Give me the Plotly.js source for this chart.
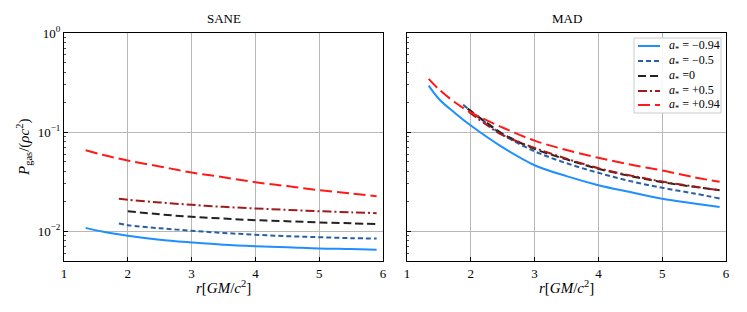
<!DOCTYPE html>
<html><head><meta charset="utf-8">
<script src="https://cdn.plot.ly/plotly-3.0.1.min.js"></script>
<style>html,body{margin:0;padding:0;background:#fff;}#plot{width:747px;height:312px;}</style>
</head><body><div id="plot"></div>
<script>
// ---- data ----
const legendLabels = ["<i>a</i><sub>*</sub> = −0.94", "<i>a</i><sub>*</sub> = −0.5", "<i>a</i><sub>*</sub> =0", "<i>a</i><sub>*</sub> = +0.5", "<i>a</i><sub>*</sub> = +0.94"];

// SANE
const saneR_m094 = [1.34, 1.6, 2, 2.5, 3, 3.5, 4, 4.5, 5, 5.5, 5.9];
const saneP_m094 = [0.0108, 0.0099, 0.0090, 0.0082, 0.0077, 0.0073, 0.00706, 0.0069, 0.0067, 0.0066, 0.0065];
const saneR_m05 = [1.86, 2, 2.5, 3, 3.5, 4, 4.5, 5, 5.5, 5.9];
const saneP_m05 = [0.01196, 0.0115, 0.0107, 0.0101, 0.0096, 0.0092, 0.0089, 0.0087, 0.0085, 0.00844];
const saneR_0 = [2, 2.5, 3, 3.5, 4, 4.5, 5, 5.5, 5.9];
const saneP_0 = [0.0159, 0.0148, 0.01396, 0.0134, 0.0129, 0.0126, 0.01224, 0.0120, 0.01177];
const saneR_p05 = [1.86, 2, 2.5, 3, 3.5, 4, 4.5, 5, 5.5, 5.9];
const saneP_p05 = [0.0212, 0.0207, 0.0195, 0.01845, 0.0176, 0.01695, 0.0164, 0.0159, 0.0155, 0.0152];
const saneR_p094 = [1.34, 1.6, 2, 2.5, 3, 3.5, 4, 4.5, 5, 5.5, 5.9];
const saneP_p094 = [0.0655, 0.059, 0.0516, 0.045, 0.0391, 0.035, 0.0312, 0.0285, 0.0259, 0.024, 0.0225];

// MAD
const madR_m094 = [1.34, 1.5, 1.75, 2, 2.5, 3, 3.5, 4, 4.5, 5, 5.5, 5.9];
const madP_m094 = [0.294, 0.216, 0.156, 0.1164, 0.070, 0.0463, 0.0359, 0.0291, 0.0248, 0.0212, 0.0190, 0.0175];
const madR_m05 = [1.88, 2, 2.25, 2.5, 3, 3.5, 4, 4.5, 5, 5.5, 5.9];
const madP_m05 = [0.189, 0.163, 0.122, 0.094, 0.064, 0.0485, 0.0388, 0.032, 0.0274, 0.024, 0.0214];
const madR_0 = [1.95, 2, 2.25, 2.5, 3, 3.5, 4, 4.5, 5, 5.5, 5.9];
const madP_0 = [0.1726, 0.163, 0.124, 0.096, 0.0677, 0.053, 0.0426, 0.036, 0.0312, 0.028, 0.0259];
const madR_p05 = [1.97, 2.25, 2.5, 3, 3.5, 4, 4.5, 5, 5.5, 5.9];
const madP_p05 = [0.160, 0.118, 0.093, 0.0693, 0.054, 0.0432, 0.0365, 0.0317, 0.0282, 0.0259];
const madR_p094 = [1.34, 1.5, 1.75, 2, 2.5, 3, 3.5, 4, 4.5, 5, 5.5, 5.9];
const madP_p094 = [0.344, 0.27, 0.20, 0.158, 0.111, 0.082, 0.066, 0.055, 0.047, 0.041, 0.035, 0.0315];

const yTickVals = [0.01, 0.1, 1];
const yTickText = ["10<sup>−2</sup>", "10<sup>−1</sup>", "10<sup>0</sup>"];
const xTickVals = [1, 2, 3, 4, 5, 6];

// ---- styles ----
const styles = [
  {color: "#1f8fff", dash: "solid", width: 2},
  {color: "#2a5fa5", dash: "5px,3px", width: 2},
  {color: "#222222", dash: "8px,4px", width: 2},
  {color: "#a01c1c", dash: "9px,3px,2px,3px", width: 2},
  {color: "#ff1a1a", dash: "12px,5px", width: 2}
];

const saneR = [saneR_m094, saneR_m05, saneR_0, saneR_p05, saneR_p094];
const saneP = [saneP_m094, saneP_m05, saneP_0, saneP_p05, saneP_p094];
const madR = [madR_m094, madR_m05, madR_0, madR_p05, madR_p094];
const madP = [madP_m094, madP_m05, madP_0, madP_p05, madP_p094];

const traces = [];
for (let i = 0; i < 5; i++) {
  traces.push({x: saneR[i], y: saneP[i], xaxis: "x", yaxis: "y", mode: "lines",
    line: Object.assign({shape: "spline"}, styles[i]), showlegend: false, hoverinfo: "skip"});
}
for (let i = 0; i < 5; i++) {
  traces.push({x: madR[i], y: madP[i], xaxis: "x2", yaxis: "y2", mode: "lines", name: legendLabels[i],
    line: Object.assign({shape: "spline"}, styles[i]), showlegend: false, hoverinfo: "skip"});
}

// minor tick positions for log axis
const minorVals = [];
for (const dec of [0.001, 0.01, 0.1]) {
  for (let k = 2; k <= 9; k++) minorVals.push(k * dec);
}

const W = 747, H = 312;
const FAM = "Liberation Serif, DejaVu Serif, serif";
const font = {family: FAM, size: 13, color: "#000"};
function xAxis(dom, anchor) {
  return {domain: dom, anchor: anchor, range: [1, 6], tickvals: xTickVals, ticks: "inside", ticklen: 4,
    tickcolor: "#000", showline: true, linecolor: "#000", linewidth: 1, mirror: true,
    showgrid: true, gridcolor: "#b8b8b8", gridwidth: 1, zeroline: false, tickfont: font};
}
function yAxis(anchor, showLabels) {
  return {domain: [1 - 261 / H, 1 - 33 / H], anchor: anchor, type: "log", range: [Math.log10(0.005), 0],
    tickvals: yTickVals, ticktext: yTickText, showticklabels: showLabels, ticks: "inside", ticklen: 4,
    tickcolor: "#000", showline: true, linecolor: "#000", linewidth: 1, mirror: true,
    showgrid: true, gridcolor: "#b8b8b8", gridwidth: 1, zeroline: false, tickfont: font,
    minor: {tickvals: minorVals, ticks: "inside", ticklen: 2, tickcolor: "#555", showgrid: false}};
}

// ---- hand-built legend box (styling only) ----
const legBox = {x0: 634, x1: 721, y0: 38, y1: 113};
const legRowY = [46, 61, 76, 91, 105];
const shapes = [{type: "rect", xref: "paper", yref: "paper", x0: legBox.x0 / W, x1: legBox.x1 / W,
  y0: 1 - legBox.y1 / H, y1: 1 - legBox.y0 / H, line: {color: "#cccccc", width: 1}, fillcolor: "rgba(255,255,255,0.9)", layer: "above"}];
const annotations = [];
for (let i = 0; i < 5; i++) {
  shapes.push({type: "line", xref: "paper", yref: "paper", x0: 638 / W, x1: 660 / W,
    y0: 1 - legRowY[i] / H, y1: 1 - legRowY[i] / H, line: {color: styles[i].color, width: 2, dash: styles[i].dash}, layer: "above"});
  annotations.push({text: legendLabels[i], x: 667 / W, y: 1 - legRowY[i] / H, xref: "paper", yref: "paper",
    xanchor: "left", yanchor: "middle", showarrow: false, font: {family: FAM, size: 12, color: "#000"}});
}
annotations.push(
  {text: "SANE", x: (64 + 383) / 2 / W, y: 1 - 18 / H, xref: "paper", yref: "paper", xanchor: "center", yanchor: "middle",
    showarrow: false, font: {family: FAM, size: 13, color: "#000"}},
  {text: "MAD", x: (407 + 726) / 2 / W, y: 1 - 18 / H, xref: "paper", yref: "paper", xanchor: "center", yanchor: "middle",
    showarrow: false, font: {family: FAM, size: 13, color: "#000"}},
  {text: "<i>r</i>[<i>GM</i>/<i>c</i><sup>2</sup>]", x: (64 + 383) / 2 / W, y: 1 - 287 / H, xref: "paper", yref: "paper",
    xanchor: "center", yanchor: "middle", showarrow: false, font: {family: FAM, size: 15, color: "#000"}},
  {text: "<i>r</i>[<i>GM</i>/<i>c</i><sup>2</sup>]", x: (407 + 726) / 2 / W, y: 1 - 287 / H, xref: "paper", yref: "paper",
    xanchor: "center", yanchor: "middle", showarrow: false, font: {family: FAM, size: 15, color: "#000"}},
  {text: "<i>P</i><sub>gas</sub>/(<i>ρc</i><sup>2</sup>)", x: 24 / W, y: 1 - 147 / H, xref: "paper", yref: "paper",
    xanchor: "center", yanchor: "middle", showarrow: false, textangle: -90, font: {family: FAM, size: 15, color: "#000"}}
);

const layout = {
  width: W, height: H, margin: {l: 0, r: 0, t: 0, b: 0},
  paper_bgcolor: "#fff", plot_bgcolor: "#fff", font: font, showlegend: false,
  xaxis: xAxis([64 / W, 383 / W], "y"),
  yaxis: yAxis("x", true),
  xaxis2: xAxis([407 / W, 726 / W], "y2"),
  yaxis2: yAxis("x2", false),
  shapes: shapes,
  annotations: annotations
};

Plotly.newPlot("plot", traces, layout, {displayModeBar: false, staticPlot: true});
</script></body></html>
